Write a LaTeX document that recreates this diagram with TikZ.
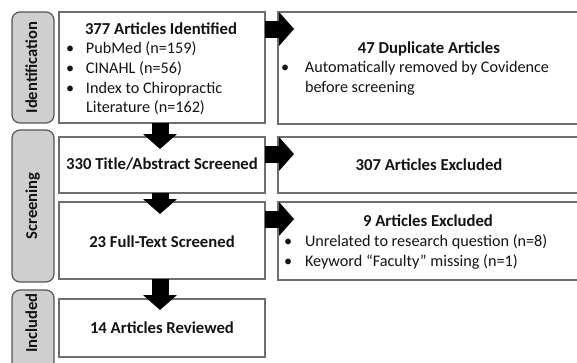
\documentclass[tikz,border=0pt]{standalone}
\usepackage{fontspec}
\setmainfont{Carlito}
\usetikzlibrary{arrows.meta,calc}
\definecolor{labelgray}{RGB}{207,207,207}
\definecolor{labeledge}{RGB}{85,85,85}
\definecolor{boxedge}{RGB}{110,110,110}
\definecolor{txt}{RGB}{20,20,20}
\begin{document}
\begin{tikzpicture}[x=1pt,y=-1pt,
  every node/.style={inner sep=0pt,outer sep=0pt,text=txt,font=\fontsize{16.2}{19.7}\selectfont},
  mainbox/.style={draw=boxedge,line width=1.1pt,fill=white,rectangle},
  stagebox/.style={draw=labeledge,line width=1.2pt,fill=labelgray,rounded corners=8pt,rectangle},
  stagetext/.style={rotate=90,anchor=base,font=\fontsize{16.6}{19.7}\selectfont\bfseries},
  titletext/.style={anchor=base,font=\fontsize{16.7}{19.7}\selectfont\bfseries},
  listtext/.style={anchor=base west},
  blockarrow/.style={black,line width=17pt,-{Triangle[width=34pt,length=15pt,line width=0pt]}}
]
\useasboundingbox (0,0) rectangle (577,362);
% stage labels
\node[stagebox,minimum width=42pt,minimum height=111pt] (L1) at (33,67.5) {};
\node[stagebox,minimum width=42pt,minimum height=152pt] (L2) at (33,206) {};
\node[stagebox,minimum width=42pt,minimum height=90pt] (L3) at (33,335) {};
\node[stagetext] (L1t) at (37,67.5) {Identification};
\node[stagetext] (L2t) at (37,206) {Screening};
\node[stagetext] (L3t) at (37,323) {Included};
% main boxes
\node[mainbox,minimum width=206pt,minimum height=111pt] (b1) at (162,67.5) {};
\node[mainbox,minimum width=206pt,minimum height=56pt] (b2) at (162,165) {};
\node[mainbox,minimum width=206pt,minimum height=77pt] (b3) at (162,240.5) {};
\node[mainbox,minimum width=206pt,minimum height=58pt] (b4) at (162,328) {};
\node[mainbox,minimum width=302pt,minimum height=112pt] (r1) at (429,68) {};
\node[mainbox,minimum width=302pt,minimum height=56pt] (r2) at (429,165) {};
\node[mainbox,minimum width=302pt,minimum height=78pt] (r3) at (429,241) {};
% texts
\node[titletext] (b1t) at (161,34) {377 Articles Identified};
\node[listtext] (b1l) at (66,53.7) {\begin{tabular}[t]{@{}p{20pt}@{}l@{}}
•&PubMed (n=159)\\
•&CINAHL (n=56)\\
•&Index to Chiropractic\\
&Literature (n=162)\end{tabular}};
\node[titletext] (b2t) at (162,169) {330 Title/Abstract Screened};
\node[titletext] (b3t) at (162,247) {23 Full-Text Screened};
\node[titletext] (b4t) at (162,333) {14 Articles Reviewed};
\node[titletext] (r1t) at (429,53) {47 Duplicate Articles};
\node[listtext] (r1l) at (281,72.7) {\begin{tabular}[t]{@{}p{24pt}@{}l@{}}
•&Automatically removed by Covidence\\
&before screening\end{tabular}};
\node[titletext] (r2t) at (429,170) {307 Articles Excluded};
\node[titletext] (r3t) at (428,226) {9 Articles Excluded};
\node[listtext] (r3l) at (284,246.5) {\begin{tabular}[t]{@{}p{21pt}@{}l@{}}
•&Unrelated to research question (n=8)\\
•&Keyword “Faculty” missing (n=1)\end{tabular}};
% arrows
\draw[blockarrow] ($(b1.south)+(-2,0)$) -- ($(b2.north)+(-2,12)$);
\draw[blockarrow] ($(b2.south)+(-2,0)$) -- ($(b3.north)+(-2,12)$);
\draw[blockarrow] ($(b3.south)+(-2,0)$) -- ($(b4.north)+(-2,11)$);
\draw[blockarrow] ($(b1.north east)+(0,17)$) -- ($(r1.north west)+(16,17)$);
\draw[blockarrow] ($(b2.north east)+(0,17)$) -- ($(r2.north west)+(16,17)$);
\draw[blockarrow] ($(b3.north east)+(0,17)$) -- ($(r3.north west)+(16,17)$);
\end{tikzpicture}
\end{document}
